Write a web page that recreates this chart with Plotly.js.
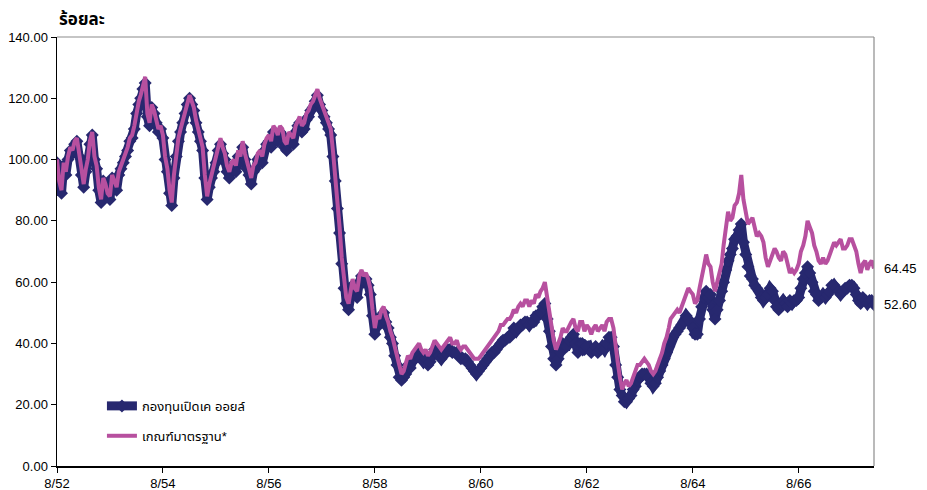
<!DOCTYPE html>
<html>
<head>
<meta charset="utf-8">
<script src="https://cdn.plot.ly/plotly-3.0.1.min.js"></script>
<style>html,body{margin:0;padding:0;background:#fff;}#chart{width:927px;height:490px;}</style>
</head>
<body>
<div id="chart"></div>
<script>
// Half-monthly readings (1st and 16th of each month) starting 1 Aug 2009 (8/2552)
const startYear = 2009, startMonth = 8;
const fundName = "กองทุนเปิดเค ออยล์";
const benchName = "เกณฑ์มาตรฐาน*";
const yTitle = "ร้อยละ";

const benchmark = [
100,93,90,99,96,101,104,103,106,107,102,96,92,97,100,106,109,101,98,91,
87,94,92,89,88,95,93,91,96,98,100,102,104,107,108,111,116,119,121,124,
127,115,112,118,116,113,110,111,108,101,97,90,86,95,102,107,110,113,116,119,
121,119,117,113,110,107,104,95,88,92,95,98,101,105,107,104,102,98,96,99,
100,98,103,101,106,102,99,97,94,98,99,102,103,101,105,107,108,106,111,110,
108,111,110,106,105,109,108,107,111,113,114,111,112,115,116,118,119,121,123,120,
118,116,114,112,110,103,95,86,78,68,60,55,53,58,61,58,57,62,64,62,
63,61,58,51,45,49,48,51,52,49,47,44,42,39,36,32,30,31,33,36,
35,37,38,39,40,38,37,38,36,37,39,41,40,39,38,39,40,41,42,40,
40,41,39,38,39,39,38,37,36,35,35,35,36,37,38,39,40,41,42,43,
44,46,46,47,48,48,49,51,50,52,53,52,54,54,52,54,53,56,55,57,
58,60,55,50,46,41,38,40,42,45,44,44,46,47,48,45,44,47,47,44,
46,45,43,45,46,44,45,46,44,47,48,48,45,38,34,29,25,27,28,26,
27,29,31,33,33,34,35,34,33,31,30,31,33,35,37,40,42,45,48,49,
50,51,50,52,54,56,58,57,56,53,54,58,61,65,69,66,65,60,57,60,
62,66,72,78,83,80,81,85,86,89,95,87,83,79,80,81,78,75,76,75,
73,68,65,67,69,71,70,68,67,70,69,66,63,64,63,64,66,70,72,75,
80,78,76,72,70,67,66,68,66,67,69,71,73,72,73,74,71,71,72,74,
74,72,70,66,63,66,67,64,66,67,64.45
];

const fund = [
99,92,89,98,95,100,103,102,105,106,101,95,91,96,99,105,108,100,97,90,
86,93,91,88,87,94,92,90,95,97,99,101,103,106,107,110,115,118,120,123,
125,114,111,117,115,112,109,110,107,100,96,89,85,94,101,106,109,112,115,118,
120,118,116,112,109,106,103,94,87,91,94,96,99,103,105,102,100,96,94,97,
98,96,101,99,104,100,97,95,92,96,97,100,101,99,103,105,106,104,109,108,
106,109,108,104,103,107,106,105,109,111,112,109,110,113,114,116,117,119,121,118,
116,114,112,110,108,101,93,84,76,66,58,53,51,56,59,56,55,60,62,60,
61,59,56,49,43,47,46,49,50,47,45,42,40,36,33,29,28,29,30,33,
32,34,35,36,37,35,34,35,33,34,36,38,37,36,35,36,37,38,38,37,
37,37,36,35,35,35,34,33,32,31,30,31,32,33,34,35,36,37,37,38,
39,40,41,41,42,42,43,45,44,45,46,46,47,47,46,47,47,49,49,50,
52,53,48,44,39,35,33,35,37,40,39,39,41,42,43,40,37,40,40,38,
39,39,37,38,39,37,38,39,38,40,42,42,39,33,29,25,23,21,21,22,
23,25,26,28,29,30,30,30,29,27,26,27,29,31,33,35,37,39,41,42,
43,44,45,46,47,49,48,47,45,43,43,48,52,55,57,55,56,51,48,51,
54,57,60,64,67,69,71,74,75,77,79,73,69,65,62,61,59,58,57,55,
54,55,56,58,57,54,52,51,53,54,53,52,54,53,54,54,55,58,61,63,
65,63,60,57,56,54,55,56,55,56,57,59,59,58,57,56,57,58,58,59,
59,58,56,54,53,55,54,53,54,54,52.6
];

const tickYears = [2552,2554,2556,2558,2560,2562,2564,2566];
const yTicks = [0,20,40,60,80,100,120,140];

function halfMonthDate(i){
  const total = (startMonth-1) + Math.floor(i/2);
  const y = startYear + Math.floor(total/12);
  const mo = (total % 12) + 1;
  return y + "-" + String(mo).padStart(2,"0") + (i % 2 ? "-16" : "-01");
}
const dates = fund.map((_, i) => halfMonthDate(i));
const tickVals = tickYears.map(by => (by-543) + "-08-01");
const tickText = tickYears.map(by => "8/" + String(by).slice(2));
const lastDate = dates[dates.length-1];

const font = "Arial, 'Liberation Sans', 'Noto Sans Thai', 'DejaVu Sans', sans-serif";

const traces = [
  {x: dates, y: fund, name: fundName, type: "scatter", mode: "lines+markers",
   line: {color: "#27286f", width: 9}, marker: {symbol: "diamond", size: 10, color: "#27286f"},
   legendgroup: "a"},
  {x: dates, y: benchmark, name: benchName, type: "scatter", mode: "lines",
   line: {color: "#b7509f", width: 4}, legendgroup: "b"}
];

const layout = {
  width: 927, height: 490,
  margin: {l: 57, r: 53, t: 37, b: 24},
  paper_bgcolor: "#fff", plot_bgcolor: "#fff",
  font: {family: font, size: 13, color: "#000"},
  showlegend: true,
  legend: {x: 0.055, y: 0.175, xanchor: "left", yanchor: "top", bgcolor: "rgba(0,0,0,0)",
           font: {size: 13}, tracegroupgap: 10},
  xaxis: {type: "date", range: [dates[0], lastDate], tickvals: tickVals, ticktext: tickText,
          showgrid: false, zeroline: false, showline: true, linecolor: "#000", linewidth: 1.5,
          ticks: "outside", ticklen: 5, tickcolor: "#000", tickfont: {size: 13}},
  yaxis: {range: [0, 140], tickvals: yTicks, ticktext: yTicks.map(v => v.toFixed(2)),
          showgrid: false, zeroline: false, showline: true, linecolor: "#000", linewidth: 1.5,
          ticks: "outside", ticklen: 5, tickcolor: "#000", tickfont: {size: 13}},
  shapes: [
    {type: "line", xref: "paper", yref: "paper", x0: 0, x1: 1, y0: 1, y1: 1, line: {color: "#8c8c8c", width: 1.2}},
    {type: "line", xref: "paper", yref: "paper", x0: 1, x1: 1, y0: 0, y1: 1, line: {color: "#8c8c8c", width: 1.2}}
  ],
  annotations: [
    {text: "<b>" + yTitle + "</b>", xref: "paper", yref: "paper", x: 0, y: 1, xanchor: "left", yanchor: "bottom",
     yshift: 6, showarrow: false, font: {size: 17, color: "#000"}},
    {text: benchmark[benchmark.length-1].toFixed(2), x: lastDate, y: benchmark[benchmark.length-1],
     xanchor: "left", yanchor: "middle", xshift: 8, showarrow: false, font: {size: 13}},
    {text: fund[fund.length-1].toFixed(2), x: lastDate, y: fund[fund.length-1],
     xanchor: "left", yanchor: "middle", xshift: 8, showarrow: false, font: {size: 13}}
  ]
};

Plotly.newPlot("chart", traces, layout, {displayModeBar: false, staticPlot: true});
</script>
</body>
</html>
